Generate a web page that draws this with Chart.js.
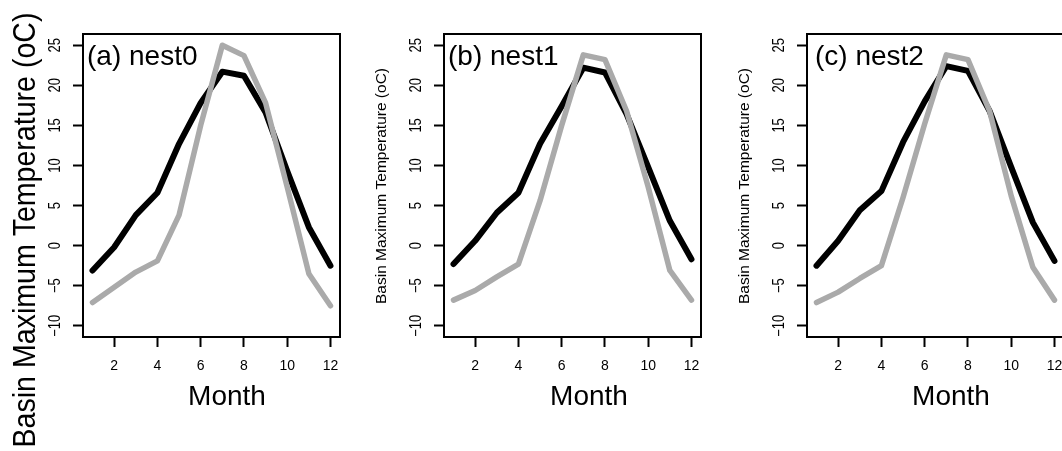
<!DOCTYPE html>
<html>
<head>
<meta charset="utf-8">
<script src="https://cdn.jsdelivr.net/npm/chart.js@4.4.0/dist/chart.umd.min.js"></script>
<style>
  html, body { margin: 0; padding: 0; background: #fff; }
  #wrap { position: relative; width: 1062px; height: 451px; overflow: hidden; background: #fff; }
  #wrap canvas { position: absolute; left: 0; top: 0; }
</style>
</head>
<body>
<div id="wrap">
  <canvas id="c0" width="1080" height="451"></canvas>
  <canvas id="c1" width="1080" height="451"></canvas>
  <canvas id="c2" width="1080" height="451"></canvas>
</div>
<script>
// ---- data ----
const months = [1, 2, 3, 4, 5, 6, 7, 8, 9, 10, 11, 12];
const xTicks = [2, 4, 6, 8, 10, 12];
const yTicks = [-10, -5, 0, 5, 10, 15, 20, 25];
const panelLabels = ["(a) nest0", "(b) nest1", "(c) nest2"];
const xTitle = "Month";
const yTitle = "Basin Maximum Temperature (oC)";

const nest0Black = [-3.1, -0.2, 3.8, 6.6, 12.7, 17.8, 21.7, 21.2, 16.6, 9.3, 2.3, -2.5];
const nest0Gray  = [-7.1, -5.2, -3.3, -1.9, 3.8, 15.0, 25.0, 23.7, 17.8, 7.3, -3.5, -7.5];
const nest1Black = [-2.3, 0.6, 4.1, 6.6, 12.7, 17.4, 22.2, 21.6, 16.4, 9.8, 3.1, -1.7];
const nest1Gray  = [-6.8, -5.6, -3.9, -2.3, 5.6, 15.0, 23.8, 23.2, 16.8, 7.3, -3.1, -6.8];
const nest2Black = [-2.5, 0.6, 4.4, 6.8, 12.9, 18.0, 22.4, 21.8, 16.8, 9.8, 2.9, -1.9];
const nest2Gray  = [-7.1, -5.8, -4.1, -2.5, 6.0, 15.2, 23.8, 23.2, 16.8, 6.2, -2.7, -6.8];

const xMin = 0.56, xMax = 12.44;
const yMin = -11.4, yMax = 26.4;

// ---- layout ----
const panels = [
  { id: "c0", boxLeft: 83,  black: nest0Black, gray: nest0Gray, bigTitle: true,  labelDx: 4, monthX: 227 },
  { id: "c1", boxLeft: 444, black: nest1Black, gray: nest1Gray, bigTitle: false, labelDx: 4, monthX: 589 },
  { id: "c2", boxLeft: 807, black: nest2Black, gray: nest2Gray, bigTitle: false, labelDx: 8, monthX: 951 }
];
const BOX_W = 257, BOX_TOP = 34, BOX_BOTTOM = 337, TICK = 10, CANVAS_W = 1080, CANVAS_H = 451;
const FONT = '"Liberation Sans", Arial, Helvetica, sans-serif';

function rotatedText(ctx, text, x, y, size, sx, sy) {
  ctx.save();
  ctx.translate(x, y);
  ctx.rotate(-Math.PI / 2);
  ctx.scale(sy, sx);
  ctx.font = size + "px " + FONT;
  ctx.textAlign = "center";
  ctx.textBaseline = "middle";
  ctx.fillStyle = "#000";
  ctx.fillText(text, 0, 0);
  ctx.restore();
}

panels.forEach((p, i) => {
  const decor = {
    id: "decor" + i,
    afterDraw(chart) {
      const ctx = chart.ctx;
      const a = chart.chartArea;
      const xs = chart.scales.x, ys = chart.scales.y;
      ctx.save();
      // frame
      ctx.strokeStyle = "#000";
      ctx.lineWidth = 2;
      ctx.strokeRect(a.left, a.top, a.right - a.left, a.bottom - a.top);
      // x tick labels
      ctx.fillStyle = "#000";
      ctx.font = "14px " + FONT;
      ctx.textAlign = "center";
      ctx.textBaseline = "middle";
      xTicks.forEach(v => ctx.fillText(String(v), xs.getPixelForValue(v), 366));
      // y tick labels (rotated, parallel to axis)
      yTicks.forEach(v => {
        const t = v < 0 ? "\u2212" + Math.abs(v) : String(v);
        rotatedText(ctx, t, a.left - 27, ys.getPixelForValue(v), 13, 1.2, 1.0);
      });
      // panel label
      ctx.font = "28px " + FONT;
      ctx.textAlign = "left";
      ctx.textBaseline = "middle";
      ctx.fillText(panelLabels[i], a.left + p.labelDx, 57);
      // x title
      ctx.textAlign = "center";
      ctx.fillText(xTitle, p.monthX, 397);
      // y title
      if (p.bigTitle) {
        rotatedText(ctx, yTitle, 27, 230, 28, 1.1, 1.02);
      } else {
        rotatedText(ctx, yTitle, a.left - 62, 186, 15.5, 0.95, 1.0);
      }
      ctx.restore();
    }
  };

  new Chart(document.getElementById(p.id), {
    type: "line",
    data: {
      labels: months,
      datasets: [
        {
          label: "gray",
          data: months.map((m, k) => ({ x: m, y: p.gray[k] })),
          borderColor: "#aaaaaa",
          borderWidth: 5.5,
          pointRadius: 0,
          tension: 0,
          borderCapStyle: "round",
          borderJoinStyle: "round",
          order: 0
        },
        {
          label: "black",
          data: months.map((m, k) => ({ x: m, y: p.black[k] })),
          borderColor: "#000000",
          borderWidth: 6,
          pointRadius: 0,
          tension: 0,
          borderCapStyle: "round",
          borderJoinStyle: "round",
          order: 1
        }
      ]
    },
    options: {
      responsive: false,
      animation: false,
      devicePixelRatio: 1,
      layout: {
        padding: {
          left: p.boxLeft - TICK,
          right: CANVAS_W - (p.boxLeft + BOX_W),
          top: BOX_TOP,
          bottom: CANVAS_H - BOX_BOTTOM - TICK
        }
      },
      plugins: { legend: { display: false }, tooltip: { enabled: false } },
      scales: {
        x: {
          type: "linear",
          min: xMin, max: xMax,
          afterBuildTicks: s => { s.ticks = xTicks.map(v => ({ value: v })); },
          afterFit: s => { s.height = TICK; },
          ticks: { display: false },
          border: { display: false },
          grid: { display: true, drawOnChartArea: false, drawTicks: true, tickLength: TICK, tickWidth: 2, tickColor: "#000" }
        },
        y: {
          type: "linear",
          min: yMin, max: yMax,
          afterBuildTicks: s => { s.ticks = yTicks.map(v => ({ value: v })); },
          afterFit: s => { s.width = TICK; },
          ticks: { display: false },
          border: { display: false },
          grid: { display: true, drawOnChartArea: false, drawTicks: true, tickLength: TICK, tickWidth: 2, tickColor: "#000" }
        }
      }
    },
    plugins: [decor]
  });
});
</script>
</body>
</html>
